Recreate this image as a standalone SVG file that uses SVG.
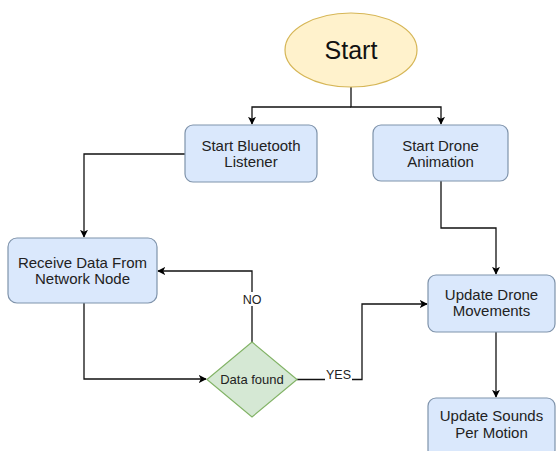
<svg xmlns="http://www.w3.org/2000/svg" width="557" height="451" viewBox="0 0 557 451">
<defs>
<marker id="arr" viewBox="0 0 10 10" refX="9" refY="5" markerWidth="8" markerHeight="8" markerUnits="userSpaceOnUse" orient="auto">
<path d="M0,0 L10,5 L0,10 L2.5,5 z" fill="#000"/>
</marker>
<style>
.box{fill:#dae8fc;stroke:#7f93ab;stroke-width:1.2}
.t{font-family:"Liberation Sans",Arial,sans-serif;font-size:15px;fill:#222;text-anchor:middle}
.c{fill:none;stroke:#111;stroke-width:1.3}
.lbl{font-family:"Liberation Sans",Arial,sans-serif;font-size:12.5px;fill:#222;text-anchor:middle}
</style>
</defs>
<rect width="557" height="451" fill="#fff"/>
<g id="connectors">
<path class="c" d="M351,87 V107 H441 V124" marker-end="url(#arr)"/>
<path class="c" d="M351,107 H252 V124" marker-end="url(#arr)"/>
<path class="c" d="M185,154 H84 V237" marker-end="url(#arr)"/>
<path class="c" d="M84,303 V379 H206" marker-end="url(#arr)"/>
<path class="c" d="M252,342 V271 H158" marker-end="url(#arr)"/>
<path class="c" d="M297,379.5 H362 V304 H427" marker-end="url(#arr)"/>
<path class="c" d="M441,181 V228 H496 V274" marker-end="url(#arr)"/>
<path class="c" d="M496,332 V397" marker-end="url(#arr)"/>
<rect x="240" y="292" width="24" height="14" fill="#fff"/>
<text class="lbl" x="252" y="304">NO</text>
<rect x="325" y="367" width="27" height="14" fill="#fff"/>
<text class="lbl" x="338.5" y="379">YES</text>
</g>
<g id="start">
<ellipse cx="351" cy="50" rx="66" ry="37" fill="#fff2cc" stroke="#d6b656" stroke-width="1.2"/>
<text x="351" y="59" font-family="Liberation Sans, Arial, sans-serif" font-size="25" fill="#111" text-anchor="middle">Start</text>
</g>
<g id="bluetooth">
<rect class="box" x="185" y="125" width="132" height="57" rx="8"/>
<text class="t" x="251" y="151">Start Bluetooth</text>
<text class="t" x="251" y="167">Listener</text>
</g>
<g id="drone-anim">
<rect class="box" x="373" y="125" width="135" height="56" rx="8"/>
<text class="t" x="440.5" y="151">Start Drone</text>
<text class="t" x="440.5" y="167">Animation</text>
</g>
<g id="receive">
<rect class="box" x="8" y="238" width="149" height="65" rx="9"/>
<text class="t" x="82.5" y="268">Receive Data From</text>
<text class="t" x="82.5" y="284">Network Node</text>
</g>
<g id="decision">
<polygon points="252,342 297,379.5 252,417 207,379.5" fill="#d5e8d4" stroke="#82b366" stroke-width="1.2"/>
<text x="252" y="384" font-family="Liberation Sans, Arial, sans-serif" font-size="13" fill="#222" text-anchor="middle">Data found</text>
</g>
<g id="update-moves">
<rect class="box" x="428" y="275" width="127" height="57" rx="8"/>
<text class="t" x="491.5" y="300">Update Drone</text>
<text class="t" x="491.5" y="316">Movements</text>
</g>
<g id="update-sounds">
<rect class="box" x="428" y="398" width="127" height="60" rx="8"/>
<text class="t" x="491.5" y="421">Update Sounds</text>
<text class="t" x="491.5" y="438">Per Motion</text>
</g>
</svg>
